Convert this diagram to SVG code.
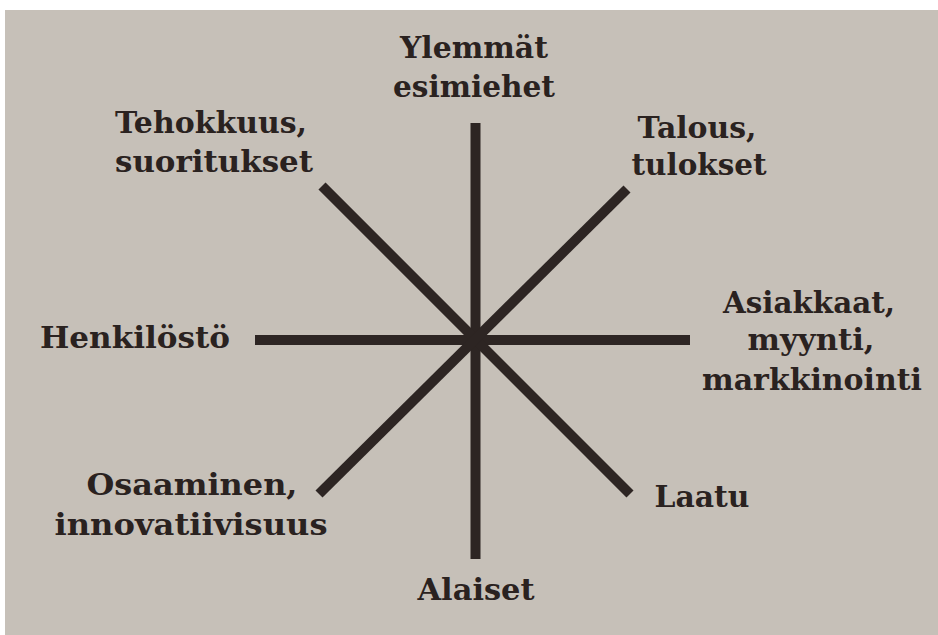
<svg xmlns="http://www.w3.org/2000/svg" width="938" height="635" viewBox="0 0 938 635">
<style>
.bg{fill:#c6c0b8}
.ln{stroke:#2d2523;stroke-width:10;stroke-linecap:butt;fill:none}
text{font-family:"DejaVu Serif","Liberation Serif",serif;font-weight:bold;font-size:30px;fill:#2a2220;text-anchor:middle}
</style>
<rect width="938" height="635" fill="#ffffff"/>
<rect class="bg" x="5" y="10" width="933" height="625"/>
<g id="connectors">
<line class="ln" x1="475.5" y1="123" x2="475.5" y2="559"/>
<line class="ln" x1="255" y1="340" x2="690" y2="340"/>
<line class="ln" x1="322" y1="186" x2="630" y2="494"/>
<line class="ln" x1="627" y1="189" x2="319" y2="494"/>
</g>
<g id="ylemmat">
<text x="474" y="58" textLength="148" lengthAdjust="spacingAndGlyphs">Ylemmät</text>
<text x="474" y="97" textLength="162" lengthAdjust="spacingAndGlyphs">esimiehet</text>
</g>
<g id="tehokkuus">
<text x="211" y="133" textLength="192" lengthAdjust="spacingAndGlyphs">Tehokkuus,</text>
<text x="214" y="172" textLength="198" lengthAdjust="spacingAndGlyphs">suoritukset</text>
</g>
<g id="talous">
<text x="697" y="138" textLength="119" lengthAdjust="spacingAndGlyphs">Talous,</text>
<text x="699" y="175" textLength="135" lengthAdjust="spacingAndGlyphs">tulokset</text>
</g>
<g id="henkilosto">
<text x="135" y="348" textLength="190" lengthAdjust="spacingAndGlyphs">Henkilöstö</text>
</g>
<g id="asiakkaat">
<text x="809" y="313" textLength="172" lengthAdjust="spacingAndGlyphs">Asiakkaat,</text>
<text x="811" y="350" textLength="127" lengthAdjust="spacingAndGlyphs">myynti,</text>
<text x="812" y="390" textLength="220" lengthAdjust="spacingAndGlyphs">markkinointi</text>
</g>
<g id="osaaminen">
<text x="192" y="495" textLength="211" lengthAdjust="spacingAndGlyphs">Osaaminen,</text>
<text x="191" y="535" textLength="273" lengthAdjust="spacingAndGlyphs">innovatiivisuus</text>
</g>
<g id="laatu">
<text x="702" y="507" textLength="95" lengthAdjust="spacingAndGlyphs">Laatu</text>
</g>
<g id="alaiset">
<text x="476" y="600" textLength="117" lengthAdjust="spacingAndGlyphs">Alaiset</text>
</g>
</svg>
